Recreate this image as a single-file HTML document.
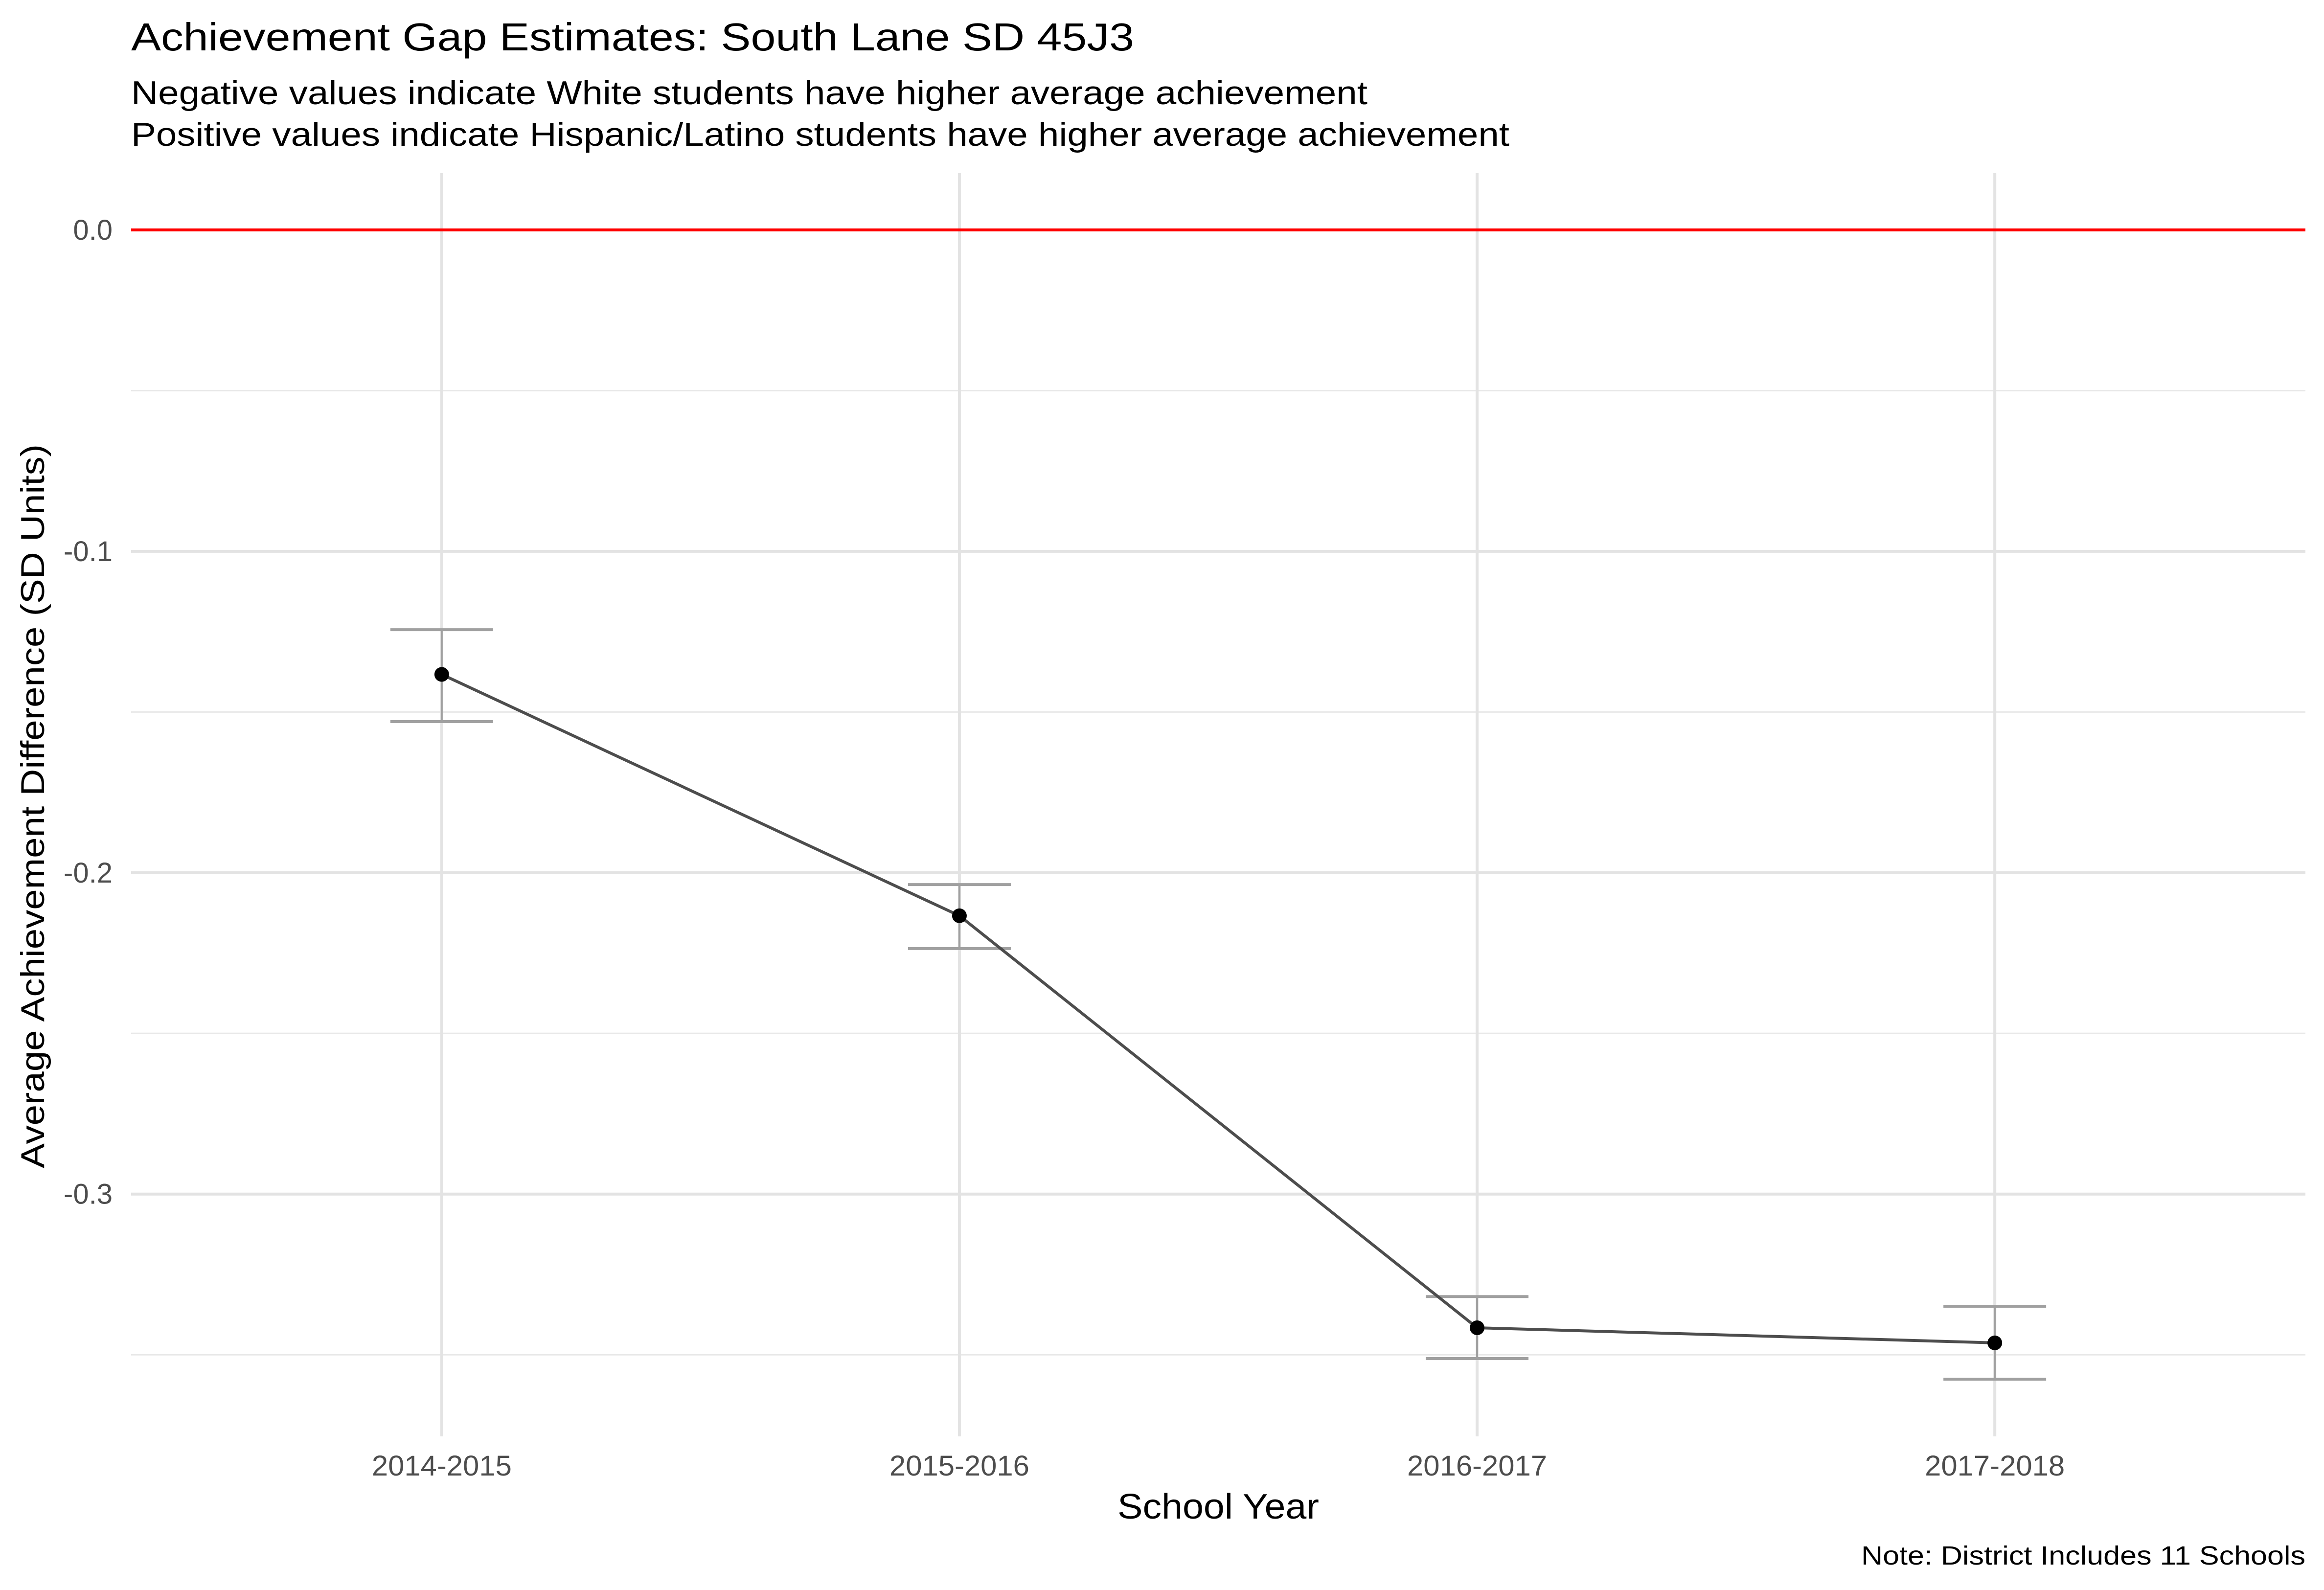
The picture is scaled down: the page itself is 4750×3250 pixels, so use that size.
<!DOCTYPE html>
<html><head><meta charset="utf-8"><style>
html,body{margin:0;padding:0;background:#fff;}
svg{display:block;font-family:"Liberation Sans",Arial,sans-serif;}
</style></head><body>
<svg id="chart" width="4750" height="3250" viewBox="0 0 4750 3250" xmlns="http://www.w3.org/2000/svg">
<rect width="4750" height="3250" fill="#fff"/>
<text x="268" y="103" font-size="80" fill="#000" textLength="2050" lengthAdjust="spacingAndGlyphs">Achievement Gap Estimates: South Lane SD 45J3</text>
<text x="268" y="213" font-size="68" fill="#000" textLength="2527" lengthAdjust="spacingAndGlyphs">Negative values indicate White students have higher average achievement</text>
<text x="268" y="298" font-size="68" fill="#000" textLength="2817" lengthAdjust="spacingAndGlyphs">Positive values indicate Hispanic/Latino students have higher average achievement</text>
<g id="grid"></g>
<g id="marks"></g>
<g id="axes"></g>
<text x="2490" y="3104" font-size="72" text-anchor="middle" fill="#000" textLength="412" lengthAdjust="spacingAndGlyphs">School Year</text>
<text transform="translate(90,1648) rotate(-90)" font-size="68" text-anchor="middle" fill="#000" textLength="1480" lengthAdjust="spacingAndGlyphs">Average Achievement Difference (SD Units)</text>
<text x="4712" y="3198" font-size="54" text-anchor="end" fill="#000" textLength="908" lengthAdjust="spacingAndGlyphs">Note: District Includes 11 Schools</text>
</svg>
<script>
const categories = ["2014-2015","2015-2016","2016-2017","2017-2018"];
const estimates = [-0.1383,-0.2134,-0.3416,-0.3463];
const ciUpper = [-0.1244,-0.2037,-0.3319,-0.3349];
const ciLower = [-0.1530,-0.2236,-0.3512,-0.3576];
const yTicks = [0.0,-0.1,-0.2,-0.3];
const yTickLabels = ["0.0","-0.1","-0.2","-0.3"];
const yMinor = [-0.05,-0.15,-0.25,-0.35];

const NS="http://www.w3.org/2000/svg";
const L=268,R=4712,T=354,B=2936;
const Y0=470, PER=6569;
function y(v){return Y0 - v*PER;}
const step=(R-L)/(categories.length+0.2);
function x(i){return L+step*(0.6+i);}
function mk(tag,attrs,parent){const e=document.createElementNS(NS,tag);for(const k in attrs)e.setAttribute(k,attrs[k]);parent.appendChild(e);return e;}
const grid=document.getElementById('grid'),marks=document.getElementById('marks'),axes=document.getElementById('axes');
yMinor.forEach(v=>{const l=mk('line',{x1:L,x2:R,y1:y(v),y2:y(v),stroke:'#e8e8e8','stroke-width':3},grid);

});
yTicks.forEach((v,i)=>{const l=mk('line',{x1:L,x2:R,y1:y(v),y2:y(v),stroke:'#e3e3e3','stroke-width':6},grid);


const t=mk('text',{x:230,y:y(v)+20,'font-size':58,'text-anchor':'end',fill:'#4d4d4d'},axes);t.textContent=yTickLabels[i];

});
categories.forEach((c,i)=>{const l=mk('line',{x1:x(i),x2:x(i),y1:T,y2:B,stroke:'#e3e3e3','stroke-width':6},grid);


const t=mk('text',{x:x(i),y:3016,'font-size':58,'text-anchor':'middle',fill:'#4d4d4d',textLength:286,lengthAdjust:'spacingAndGlyphs'},axes);t.textContent=c;

});
const zl=mk('line',{x1:L,x2:R,y1:y(0),y2:y(0),stroke:'#ff0000','stroke-width':6},marks);


categories.forEach((c,i)=>{const g=mk('g',{},marks);


mk('line',{x1:x(i),x2:x(i),y1:y(ciUpper[i]),y2:y(ciLower[i]),stroke:'#a0a0a0','stroke-width':4},g);
mk('line',{x1:x(i)-105,x2:x(i)+105,y1:y(ciUpper[i]),y2:y(ciUpper[i]),stroke:'#a0a0a0','stroke-width':6},g);
mk('line',{x1:x(i)-105,x2:x(i)+105,y1:y(ciLower[i]),y2:y(ciLower[i]),stroke:'#a0a0a0','stroke-width':6},g);});
const pl=mk('polyline',{points:estimates.map((v,i)=>x(i)+','+y(v)).join(' '),fill:'none',stroke:'#4d4d4d','stroke-width':6},marks);


estimates.forEach((v,i)=>{const p=mk('circle',{cx:x(i),cy:y(v),r:15,fill:'#000'},marks);

});
</script>
</body></html>
